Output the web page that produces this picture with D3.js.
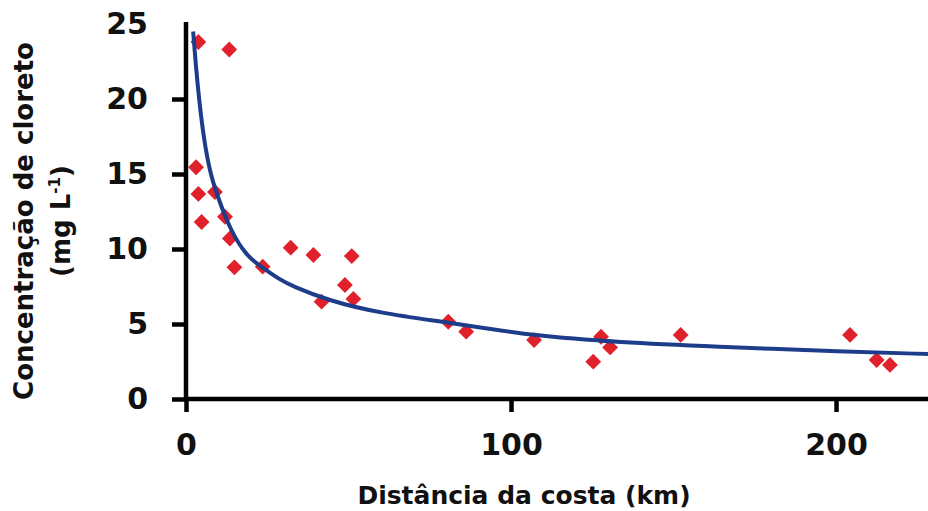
<!DOCTYPE html>
<html lang="pt">
<head><meta charset="utf-8"/>
<style>
body { margin: 0; background: #fff; }
text { font-family: "DejaVu Sans", sans-serif; font-weight: bold; fill: #111; }
.axis path, .axis line { stroke: #000; stroke-width: 4.5px; }
.axis text { font-size: 30px; }
.fit { fill: none; stroke: #1d3c8a; stroke-width: 4px; }
.pt { fill: #e0202b; }
</style>
</head>
<body>
<svg id="chart" width="928" height="511"></svg>
<script src="https://cdn.jsdelivr.net/npm/d3@7"></script>
<script>

// pontos medidos (km, mg/L)
var distKm   = [3.8, 13.3, 3.1, 3.8, 8.9, 4.8, 12.0, 13.5, 14.9, 23.6,
                32.2, 39.2, 51.0, 48.9, 41.7, 51.5, 80.7, 86.2, 107.1, 125.3,
                127.7, 130.5, 152.2, 204.3, 212.5, 216.6];
var chloride = [23.8, 23.3, 15.45, 13.67, 13.8, 11.8, 12.15, 10.7, 8.78, 8.82,
                10.09, 9.6, 9.53, 7.6, 6.49, 6.67, 5.15, 4.49, 3.93, 2.49,
                4.15, 3.44, 4.27, 4.27, 2.6, 2.27];

// curva ajustada
var fitDist = [2.2, 3.0, 4.0, 5.5, 7.4, 9.4, 13.5, 18.7, 23.6, 28.9, 33, 43.3,
               59.7, 81, 107, 133.5, 162, 203, 228.3];
var fitConc = [24.5, 22.3, 20.0, 17.3, 15.1, 13.7, 11.3, 9.5, 8.75, 7.95, 7.5, 6.6,
               5.71, 5.1, 4.2, 3.78, 3.5, 3.15, 3.0];

var xTicks = [0, 100, 200];
var yTicks = [0, 5, 10, 15, 20, 25];

var svg = d3.select("#chart");

var x = d3.scaleLinear().domain([0, 228.3]).range([186, 928]),
    y = d3.scaleLinear().domain([0, 25]).range([399, 24]);

var pts = distKm.map((d, i) => ({x: d, y: chloride[i]}));
var fit = fitDist.map((d, i) => ({x: d, y: fitConc[i]}));

svg.append("g").selectAll("path")
	.data(pts)
	.enter().append("path")
	.attr("class", "pt")
	.attr("transform", d => "translate(" + x(d.x) + "," + y(d.y) + ") rotate(45)")
	.attr("d", d3.symbol().type(d3.symbolSquare).size(125));

var line = d3.line()
	.curve(d3.curveBasis)
	.x(d => x(d.x))
	.y(d => y(d.y));

svg.append("path")
	.datum(fit)
	.attr("class", "fit")
	.attr("d", line);

var axisX = svg.append("g")
	.attr("class", "axis")
	.attr("transform", "translate(0,399)")
	.call(d3.axisBottom(x).tickValues(xTicks).tickSize(13).tickPadding(22).tickSizeOuter(0));

var axisY = svg.append("g")
	.attr("class", "axis")
	.attr("transform", "translate(186,0)")
	.call(d3.axisLeft(y).tickValues(yTicks).tickSize(14).tickPadding(24).tickSizeOuter(0));

axisY.select(".domain").attr("d", "M0,22V401");
axisY.selectAll(".tick").filter(d => d == 25).select("line").remove();
axisX.select(".domain").attr("d", "M184,0H928");

svg.append("text")
	.attr("x", 524).attr("y", 504)
	.attr("text-anchor", "middle")
	.style("font-size", "25px")
	.text("Distância da costa (km)");

var yt = svg.append("text")
	.attr("transform", "rotate(-90)")
	.attr("text-anchor", "middle")
	.style("font-size", "26px");
yt.append("tspan").attr("x", -221).attr("y", 33).text("Concentração de cloreto");
var l2 = yt.append("tspan").attr("x", -221).attr("y", 70);
l2.append("tspan").text("(mg L");
l2.append("tspan").attr("dy", -10).style("font-size", "15px").text("-1");
l2.append("tspan").attr("dy", 10).text(")");

</script>
</body>
</html>
